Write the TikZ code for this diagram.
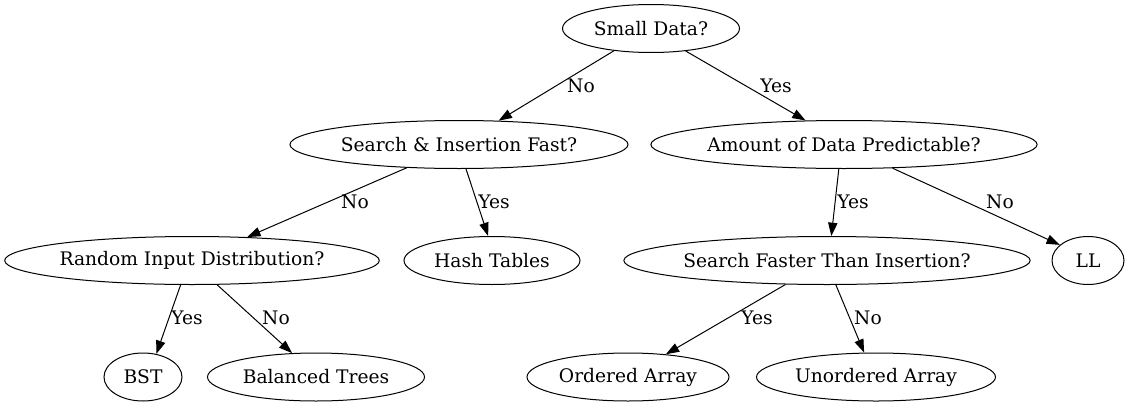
\documentclass[tikz,border=0pt]{standalone}
\usepackage{fontspec}
\setmainfont{DejaVu Serif}
\usetikzlibrary{shapes.geometric,arrows.meta}
\tikzset{
  nd/.style={draw, ellipse, inner sep=0pt, minimum height=36pt, line width=0.75pt, font=\fontsize{14pt}{16pt}\selectfont},
  edge/.style={draw, line width=0.75pt, -{Triangle[length=10pt,width=7pt]}},
  lbl/.style={font=\fontsize{14pt}{16pt}\selectfont, inner sep=0pt}
}
\begin{document}
\begin{tikzpicture}[x=0.75pt,y=-0.75pt]
\useasboundingbox (0,0) rectangle (1130,407);
\node[nd, minimum width=177*0.75pt] (small) at (651,28.5) {Small Data?};
\node[nd, minimum width=338*0.75pt] (search) at (459,144.5) {Search \& Insertion Fast?};
\node[nd, minimum width=384*0.75pt] (amount) at (844,144.5) {Amount of Data Predictable?};
\node[nd, minimum width=374*0.75pt] (random) at (192,260.5) {Random Input Distribution?};
\node[nd, minimum width=176*0.75pt] (hash) at (492,260.5) {Hash Tables};
\node[nd, minimum width=404*0.75pt] (faster) at (827,260.5) {Search Faster Than Insertion?};
\node[nd, minimum width=72*0.75pt] (ll) at (1088,260.5) {LL};
\node[nd, minimum width=78*0.75pt] (bst) at (143,377) {BST};
\node[nd, minimum width=217*0.75pt] (bal) at (316,377) {Balanced Trees};
\node[nd, minimum width=202*0.75pt] (ord) at (628,377) {Ordered Array};
\node[nd, minimum width=239*0.75pt] (unord) at (876,377) {Unordered Array};

\draw[edge] (small.211.3) -- (search.31.6);
\draw[edge] (small.327.8) -- (amount.148.3);
\draw[edge] (search.204.2) -- (random.23.5);
\draw[edge] (search.286.3) -- (hash.99.5);
\draw[edge] (amount.258.2) -- (faster.80.5);
\draw[edge] (amount.334.7) -- (ll.151.7);
\draw[edge] (random.245.4) -- (bst.60.1);
\draw[edge] (random.316.4) -- (bal.135.7);
\draw[edge] (faster.210.4) -- (ord.31.1);
\draw[edge] (faster.290.6) -- (unord.116.7);

\node[lbl] (l1) at (581,86) {No};
\node[lbl] (l2) at (776,86) {Yes};
\node[lbl] (l3) at (355,202) {No};
\node[lbl] (l4) at (494,202) {Yes};
\node[lbl] (l5) at (853,202) {Yes};
\node[lbl] (l6) at (1000,202) {No};
\node[lbl] (l7) at (187,318) {Yes};
\node[lbl] (l8) at (276,318) {No};
\node[lbl] (l9) at (757,318) {Yes};
\node[lbl] (l10) at (868,318) {No};
\end{tikzpicture}
\end{document}
